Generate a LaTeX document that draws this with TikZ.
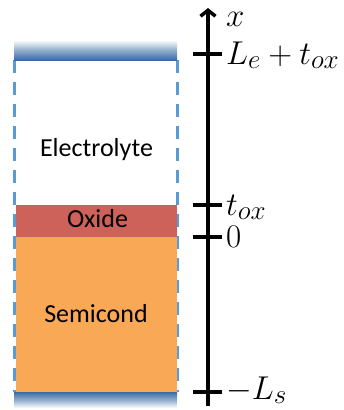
\RequirePackage{fix-cm}
\documentclass[tikz,border=0pt]{standalone}
\usepackage{fontspec}
\usepackage{tikz}
\usetikzlibrary{arrows.meta,positioning}
\newfontfamily\calibri{Carlito}
\DeclareMathSizes{33}{33}{27}{20}
\definecolor{electrodeblue}{HTML}{3A6CA4}
\definecolor{dashblue}{HTML}{5B9BD5}
\definecolor{oxidered}{HTML}{CD625B}
\definecolor{semiorange}{HTML}{F9A856}

\begin{document}
\begin{tikzpicture}[x=1pt,y=-1pt,
    layertext/.style={font=\calibri\fontsize{26}{30}\selectfont,anchor=base,inner sep=0pt},
    axlabel/.style={font=\fontsize{33}{40}\selectfont,anchor=base west,inner sep=0pt},
    tickline/.style={line width=3.5pt}]
    \useasboundingbox (0,0) rectangle (344,410);
    % side walls of the cell
    \draw[dashblue,line width=3.5pt,dash pattern=on 13pt off 9pt] (14.5,60) -- (14.5,392);
    \draw[dashblue,line width=3.5pt,dash pattern=on 13pt off 9pt] (177.5,60) -- (177.5,392);
    % layers
    \fill[oxidered] (15.5,205) rectangle (176.5,237);
    \fill[semiorange] (15.5,238) rectangle (176.5,392);
    \draw[gray!60,line width=.6pt] (15.5,237.5) -- (176.5,237.5);
    % electrodes
    \shade[top color=white,bottom color=electrodeblue,middle color=electrodeblue!55] (14,40) rectangle (177,60);
    \shade[top color=electrodeblue,bottom color=white,middle color=electrodeblue!55] (14,392) rectangle (177,408);
    \node[layertext] (elyte) at (96.5,156) {Electrolyte};
    \node[layertext] (oxide) at (97.5,227) {Oxide};
    \node[layertext] (semi) at (96,322) {Semicond};
    % axis
    \coordinate (axbot) at (208,406);
    \coordinate (axtop) at (208,8);
    \draw[line width=3.5pt,-{Straight Barb[length=6pt,width=15pt]}] (axbot) -- (axtop);
    \node[axlabel] (xlab) at (226,26) {$x$};
    \foreach \y/\dy/\lab [count=\i] in {54/10/{L_e+t_{ox}},205/10/{t_{ox}},237/10/{0},392/7/{-L_s}} {
      \coordinate (tl\i) at (193,\y);
      \coordinate (tr\i) at (222,\y);
      \draw[tickline] (tl\i) -- (tr\i);
      \node[axlabel] (lab\i) at (226,\y+\dy) {$\lab$};
    }
  \end{tikzpicture}
\end{document}
